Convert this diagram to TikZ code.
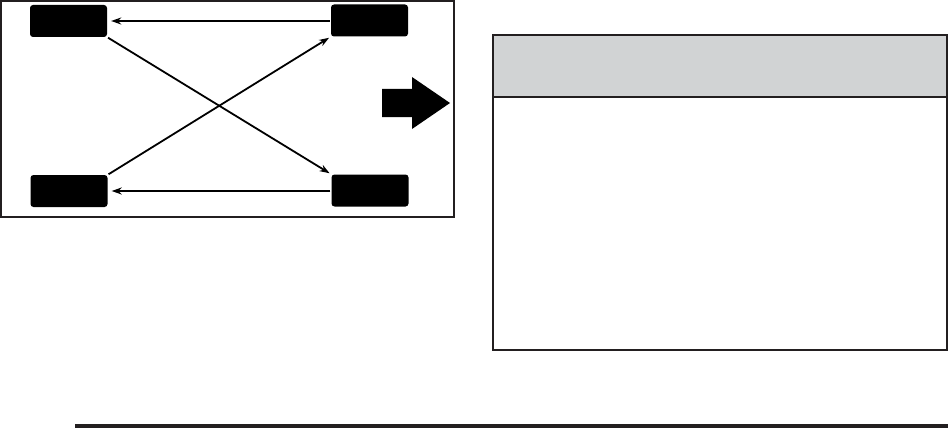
\documentclass[tikz,border=0pt]{standalone}
\usetikzlibrary{arrows.meta}
\definecolor{hdrgray}{HTML}{D1D3D4}
\definecolor{ink}{HTML}{231F20}
\begin{document}
\begin{tikzpicture}[x=1pt,y=-1pt,
  tire/.style={fill=black,rounded corners=3pt,minimum width=77pt,minimum height=32pt,inner sep=0pt,draw=none},
  rot/.style={line width=1.8pt,-{Stealth[length=10pt,width=7pt]}},
  frame/.style={draw=ink,line width=2.2pt}]
\useasboundingbox (0,0) rectangle (948,428);
% left frame
\draw[frame] (1,1) rectangle (454,217);
% tires
\node[tire] (tl) at (68.5,21) {};
\node[tire] (tr) at (369.5,20.5) {};
\node[tire] (bl) at (69,191) {};
\node[tire] (br) at (370,190.5) {};
% rotation arrows
\draw[rot,shorten <=1pt,shorten >=4pt] (tr.west |- 0,21) -- (tl.east |- 0,21);
\draw[rot,shorten <=1pt,shorten >=4pt] (br.west |- 0,191) -- (bl.east |- 0,191);
\draw[rot,shorten <=1pt,shorten >=2pt] (tl.south east) -- (br.north west);
\draw[rot,shorten <=1pt,shorten >=2pt] (bl.north east) -- (tr.south west);
% forward arrow
\fill[black] (382,89) -- (412,89) -- (412,77) -- (450,103) -- (412,129) -- (412,117) -- (382,117) -- cycle;
% right box
\node[draw=none,fill=hdrgray,minimum width=454pt,minimum height=62pt,inner sep=0pt] (hdr) at (720,66) {};
\node[draw=none,minimum width=454pt,minimum height=253pt,inner sep=0pt] (body) at (720,223.5) {};
\draw[frame] (hdr.north west) rectangle (body.south east);
\draw[frame] (hdr.south west) -- (hdr.south east);
% bottom rule
\fill[ink] (75,424) rectangle (948,428);
\end{tikzpicture}
\end{document}
